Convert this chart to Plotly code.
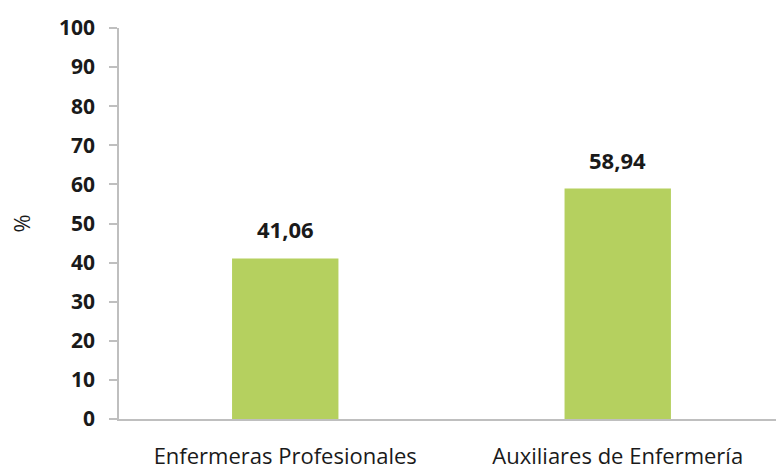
import plotly.graph_objects as go

categories = ["Enfermeras Profesionales", "Auxiliares de Enfermería"]
values = [41.06, 58.94]
value_labels = ["41,06", "58,94"]
y_ticks = [0, 10, 20, 30, 40, 50, 60, 70, 80, 90, 100]

FONT = "Open Sans, sans-serif"
fig = go.Figure()
fig.add_trace(go.Bar(
    x=categories, y=values, width=0.32,
    marker=dict(color="#B5D05F", line=dict(width=0)),
    hoverinfo="skip",
))
for c, v, t in zip(categories, values, value_labels):
    fig.add_annotation(x=c, y=v, text=t, showarrow=False,
                       yanchor="bottom", yshift=12,
                       font=dict(family=FONT, size=22, color="#1a1a1a", weight="bold"))

fig.update_layout(
    width=776, height=470,
    margin=dict(l=119, r=0, t=28, b=51, autoexpand=False),
    paper_bgcolor="white", plot_bgcolor="white",
    showlegend=False,
    font=dict(family=FONT, color="#1a1a1a"),
)
fig.update_xaxes(
    range=[-0.5, 1.476], showgrid=False, showline=True, linecolor="#BFBFBF", linewidth=1.5,
    ticks="", tickfont=dict(family=FONT, size=22, color="#1a1a1a"),
    ticklabelstandoff=17, automargin=False,
)
fig.update_yaxes(
    range=[0, 100], tickvals=y_ticks, showgrid=False, zeroline=False,
    showline=True, linecolor="#BFBFBF", linewidth=1.5,
    ticks="outside", ticklen=8, tickcolor="#BFBFBF", tickwidth=1.5,
    tickfont=dict(family=FONT, size=21, color="#1a1a1a", weight="bold"),
    ticklabelstandoff=10, automargin=False,
    title=dict(text="%", font=dict(family=FONT, size=22, color="#1a1a1a"), standoff=22),
)
fig.write_html("out.html")
